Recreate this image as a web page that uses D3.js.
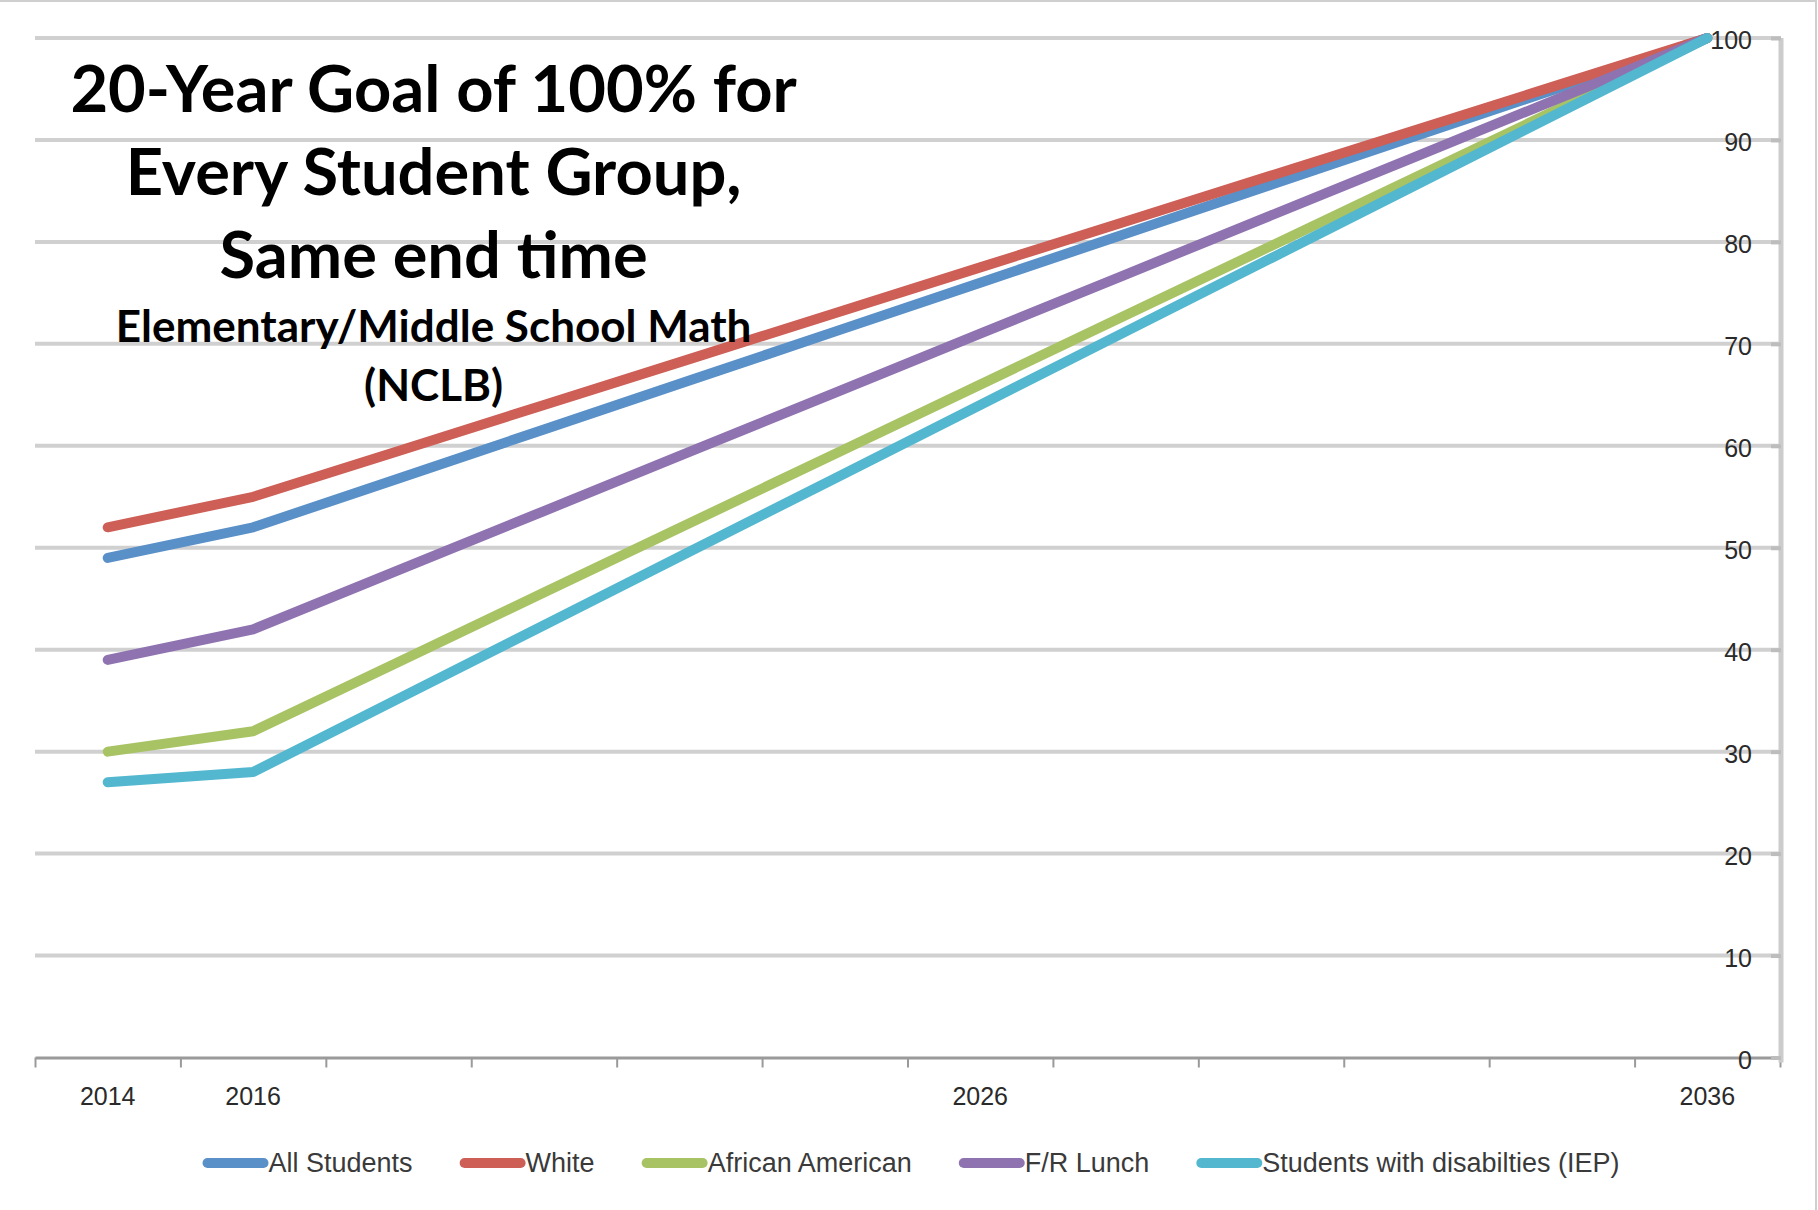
<!DOCTYPE html>
<html>
<head>
<meta charset="utf-8">
<script src="https://cdn.jsdelivr.net/npm/d3@7"></script>
<style>
  html, body { margin: 0; padding: 0; background: #fff; }
  svg { display: block; }
</style>
</head>
<body>
<svg id="chart" width="1818" height="1210"></svg>
<script>
// Years on the category axis and the ones that carry a label
const years = ["2014","2016","2018","2020","2022","2024","2026","2028","2030","2032","2034","2036"];
const yearLabels = ["2014","2016","2026","2036"];
const yTicks = [0,10,20,30,40,50,60,70,80,90,100];

// Percent proficient targets per student group
const seriesNames = ["All Students","White","African American","F/R Lunch","Students with disabilties (IEP)"];
const allStudents     = [49, 52, 56.8, 61.6, 66.4, 71.2, 76, 80.8, 85.6, 90.4, 95.2, 100];
const white           = [52, 55, 59.5, 64, 68.5, 73, 77.5, 82, 86.5, 91, 95.5, 100];
const africanAmerican = [30, 32, 38.8, 45.6, 52.4, 59.2, 66, 72.8, 79.6, 86.4, 93.2, 100];
const frLunch         = [39, 42, 47.8, 53.6, 59.4, 65.2, 71, 76.8, 82.6, 88.4, 94.2, 100];
const iep             = [27, 28, 35.2, 42.4, 49.6, 56.8, 64, 71.2, 78.4, 85.6, 92.8, 100];
const seriesColors = ["#5a90c8", "#cd5f57", "#a8c364", "#8f73b0", "#52b7cf"];

const titleLines = ["20-Year Goal of 100% for", "Every Student Group,", "Same end time"];
const subtitleLines = ["Elementary/Middle School Math", "(NCLB)"];

const series = [allStudents, white, africanAmerican, frLunch, iep].map((vals, i) => ({
  name: seriesNames[i], color: seriesColors[i], values: vals
}));

const svg = d3.select("#chart");
const W = 1818, H = 1210;
const plot = { left: 35, right: 1781, top: 38, bottom: 1057.5 };

const x = d3.scaleBand().domain(years).range([plot.left, plot.right - 1]);
const xEdges = d3.scaleLinear().domain([0, years.length]).range([plot.left, plot.right - 1]);
const y = d3.scaleLinear().domain([0, 100]).range([plot.bottom, plot.top]);

// chart frame
svg.append("rect")
  .attr("x", -4).attr("y", 1).attr("width", W + 4 - 2).attr("height", H + 4)
  .attr("fill", "none").attr("stroke", "#cfcfcf").attr("stroke-width", 2);

// horizontal gridlines
svg.append("g").selectAll("line")
  .data(yTicks.filter(d => d > 0))
  .join("line")
  .attr("x1", plot.left).attr("x2", plot.right)
  .attr("y1", d => y(d)).attr("y2", d => y(d))
  .attr("stroke", "#d0d0d0").attr("stroke-width", 4);

// x axis: tick marks at category boundaries
const xTickAxis = svg.append("g")
  .attr("transform", `translate(0,${plot.bottom})`)
  .call(d3.axisBottom(xEdges).tickValues(d3.range(years.length + 1)).tickFormat("").tickSize(10).tickSizeOuter(0));
xTickAxis.select(".domain").attr("stroke", "#9a9a9a").attr("stroke-width", 3);
xTickAxis.selectAll(".tick line").attr("stroke", "#9a9a9a").attr("stroke-width", 2);

// x axis: year labels
const xLabelAxis = svg.append("g")
  .attr("transform", `translate(0,${plot.bottom})`)
  .call(d3.axisBottom(x).tickValues(yearLabels).tickSize(0));
xLabelAxis.select(".domain").remove();
xLabelAxis.selectAll("text")
  .attr("y", 47.5).attr("dy", null)
  .attr("font-family", "'Liberation Sans', Arial, sans-serif")
  .attr("font-size", 25).attr("fill", "#2a2a2a");

// data lines
const line = d3.line()
  .x((d, i) => x(years[i]) + x.bandwidth() / 2)
  .y(d => y(d));

svg.append("g").selectAll("path")
  .data(series)
  .join("path")
  .attr("d", d => line(d.values))
  .attr("fill", "none")
  .attr("stroke", d => d.color)
  .attr("stroke-width", 10)
  .attr("stroke-linejoin", "round")
  .attr("stroke-linecap", "round");

// y axis on the right, labels inside the plot
const yAxis = svg.append("g")
  .attr("transform", `translate(${plot.right},0)`)
  .call(d3.axisLeft(y).tickValues(yTicks).tickSize(10).tickPadding(19).tickSizeOuter(0));
yAxis.select(".domain").attr("stroke", "#cccccc").attr("stroke-width", 5)
  .attr("d", `M0,${plot.top}V${plot.bottom + 5}`);
yAxis.selectAll(".tick line").attr("stroke", "#bdbdbd").attr("stroke-width", 4);
yAxis.selectAll("text")
  .attr("dy", "0.43em")
  .attr("font-family", "'Liberation Sans', Arial, sans-serif")
  .attr("font-size", 25).attr("fill", "#2a2a2a");

// title block
const titleX = 433.6;
const title = svg.append("g")
  .attr("font-family", "Lato, 'Open Sans', sans-serif")
  .attr("font-weight", 700)
  .attr("fill", "#000")
  .attr("text-anchor", "middle");
const titleBase = [112, 195, 278];
titleLines.forEach((t, i) => {
  title.append("text").attr("x", titleX).attr("y", titleBase[i])
    .attr("font-size", 65).text(t);
});
const subBase = [342, 401];
subtitleLines.forEach((t, i) => {
  title.append("text").attr("x", titleX).attr("y", subBase[i])
    .attr("font-size", 44).text(t);
});

// legend
const legend = svg.append("g")
  .attr("font-family", "'Liberation Sans', Arial, sans-serif")
  .attr("font-size", 27).attr("fill", "#3a3a3a");
const swatch = 64, gapText = 1, gapItem = 48, legendY = 1163;
const items = legend.selectAll("g").data(series).join("g");
items.append("line")
  .attr("x1", 4).attr("x2", swatch - 4)
  .attr("y1", 0).attr("y2", 0)
  .attr("stroke", d => d.color).attr("stroke-width", 10)
  .attr("stroke-linecap", "round");
items.append("text")
  .attr("x", swatch + gapText).attr("y", 0).attr("dy", "0.35em")
  .text(d => d.name);
const widths = [];
items.each(function () {
  widths.push(swatch + gapText + d3.select(this).select("text").node().getComputedTextLength());
});
const total = d3.sum(widths) + gapItem * (widths.length - 1);
let cx = 911.5 - total / 2;
items.attr("transform", (d, i) => {
  const t = `translate(${cx},${legendY})`;
  cx += widths[i] + gapItem;
  return t;
});
</script>
</body>
</html>
